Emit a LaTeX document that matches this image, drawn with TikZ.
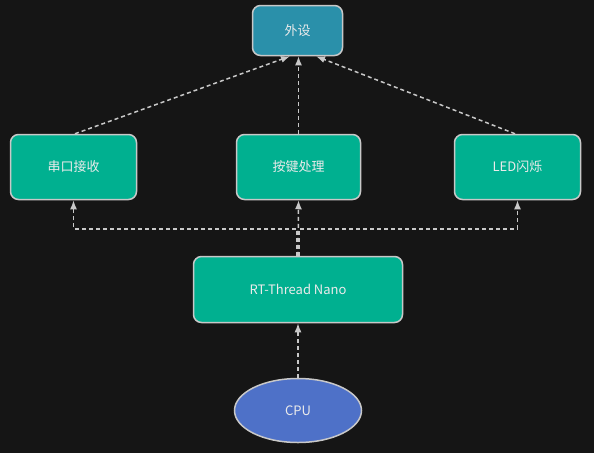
\documentclass[tikz,border=0pt]{standalone}
\usepackage{fontspec}
\setmainfont{Noto Sans CJK SC}
\usetikzlibrary{shapes.geometric,arrows.meta,positioning}
\definecolor{bgdark}{RGB}{21,21,21}
\definecolor{boxgreen}{RGB}{0,176,144}
\definecolor{periblue}{RGB}{42,144,170}
\definecolor{cpublue}{RGB}{78,113,200}
\definecolor{edgegray}{RGB}{200,200,200}
\definecolor{textwhite}{RGB}{235,235,235}

\begin{document}
\begin{tikzpicture}[x=1pt, y=-1pt,
  box/.style={draw=edgegray, line width=1.5pt, rounded corners=8pt, fill=boxgreen,
    text=textwhite, font=\fontsize{13}{15}\selectfont, inner sep=0pt},
  flow/.style={draw=edgegray, line width=1.5pt, dash pattern=on 4pt off 3pt,
    -{Latex[length=9pt,width=7pt]}}]

% Background
\fill[bgdark] (0,0) rectangle (594,453);
\useasboundingbox (0,0) rectangle (594,453);

% Peripherals
\node[box, fill=periblue, minimum width=90pt, minimum height=50pt] (peri) at (297.5,30.5) {外设};

% Threads
\node[box, minimum width=126pt, minimum height=65pt] (uart) at (73.5,167) {串口接收};
\node[box, minimum width=124pt, minimum height=65pt] (keys) at (298.5,167) {按键处理};
\node[box, minimum width=126pt, minimum height=65pt] (led) at (517.5,167) {LED闪烁};

% Kernel
\node[box, minimum width=209pt, minimum height=66pt] (rtos) at (298,289.5) {RT-Thread Nano};

% CPU
\node[ellipse, draw=edgegray, line width=1.5pt, fill=cpublue, text=textwhite,
  font=\fontsize{13}{15}\selectfont, minimum width=127pt, minimum height=64pt] (cpu) at (298,410.5) {CPU};

% CPU to kernel
\draw[flow] (cpu.north) -- (rtos.south);

% Kernel to threads
\draw[flow] ([xshift=-1pt]rtos.north) -- ++(0,-27) -| (uart.south);
\draw[flow] (rtos.north) -- (keys.south);
\draw[flow] ([xshift=1pt]rtos.north) -- ++(0,-27) -| (led.south);

% Threads to peripherals
\draw[flow] ([xshift=1.5pt]uart.north) -- ([xshift=-7.5pt]peri.south);
\draw[flow] (keys.north) -- ([xshift=1pt]peri.south);
\draw[flow] ([xshift=-2.5pt]led.north) -- ([xshift=18.5pt]peri.south);

\end{tikzpicture}
\end{document}
